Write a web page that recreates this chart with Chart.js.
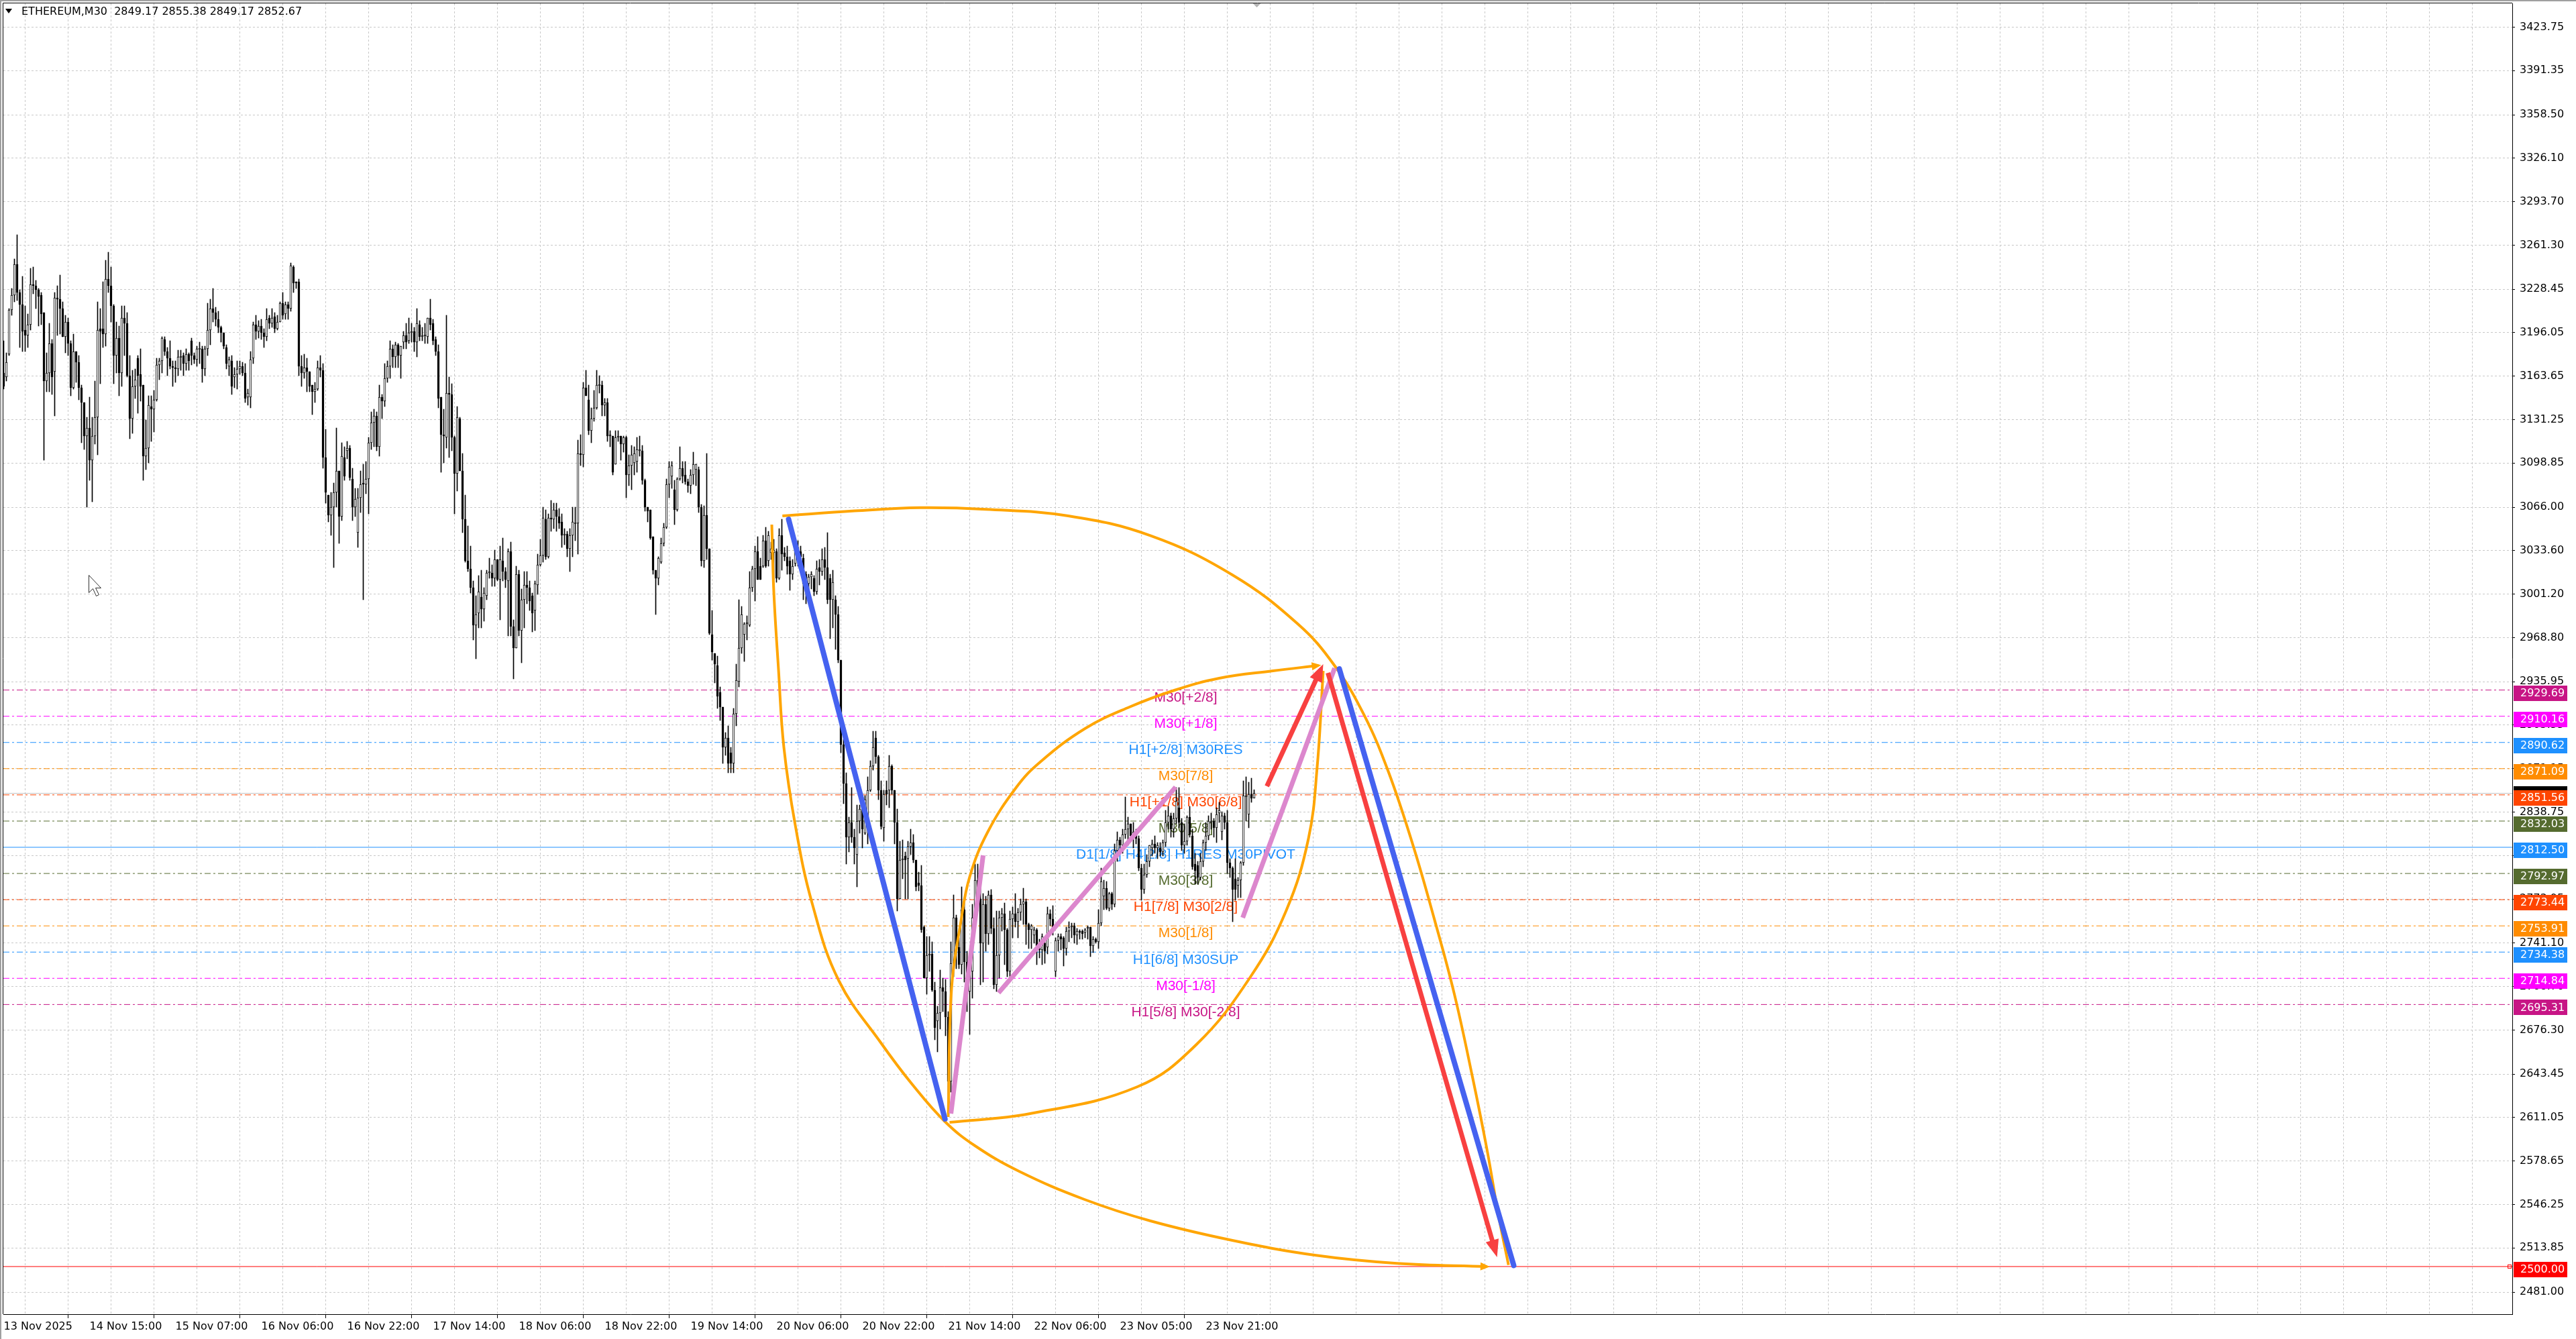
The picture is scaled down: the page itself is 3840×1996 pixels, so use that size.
<!DOCTYPE html>
<html>
<head>
<meta charset="utf-8">
<script src="https://cdn.jsdelivr.net/npm/chart.js@4.4.1/dist/chart.umd.min.js"></script>
<style>
html, body { margin: 0; padding: 0; background: #fff; }
#wrap { position: relative; width: 3840px; height: 1996px; }
</style>
</head>
<body>
<div id="wrap"><canvas id="chart"></canvas></div>
<script>
// ETHEREUM M30 candles, one value per bar (bar 0 = 13 Nov 2025)
const opens = [
3166,3163,3180,3213,3224,3247,3226,3217,3198,3194, 3202,3232,3231,3228,3224,3211,3160,3166,3188,3167,
3222,3221,3214,3193,3204,3188,3155,3182,3174,3155, 3144,3119,3125,3101,3119,3133,3199,3199,3195,3236,
3231,3216,3179,3192,3166,3207,3203,3164,3132,3156, 3177,3165,3157,3104,3110,3141,3139,3146,3172,3175,
3191,3182,3177,3171,3170,3169,3178,3179,3173,3180, 3190,3179,3176,3184,3184,3169,3184,3198,3214,3211,
3206,3200,3196,3185,3171,3175,3163,3165,3169,3171, 3166,3148,3148,3177,3202,3197,3201,3196,3193,3207,
3203,3208,3199,3204,3218,3210,3217,3214,3245,3234, 3234,3171,3166,3170,3167,3157,3152,3154,3170,3168,
3103,3075,3060,3066,3077,3093,3059,3103,3108,3110, 3087,3066,3047,3073,3084,3083,3087,3114,3129,3134,
3111,3148,3145,3162,3171,3184,3178,3187,3179,3189, 3194,3190,3196,3197,3189,3202,3193,3194,3193,3207,
3203,3191,3182,3148,3120,3118,3151,3150,3118,3091, 3132,3093,3057,3026,3020,3006,2978,2987,2999,2990,
3000,3017,3017,3013,3027,3012,3026,3018,3011,3033, 2977,2961,3016,2974,2997,3008,3006,3000,2989,3008,
3023,3030,3057,3029,3058,3057,3064,3059,3055,3045, 3046,3035,3045,3054,3054,3106,3105,3155,3146,3123,
3132,3140,3157,3157,3142,3144,3119,3119,3098,3118, 3119,3113,3118,3090,3097,3099,3100,3108,3108,3086,
3066,3064,3044,3019,3013,3025,3039,3051,3083,3089, 3079,3064,3087,3095,3090,3085,3082,3090,3094,3094,
3066,3026,3060,3035,2971,2957,2948,2928,2917,2887, 2894,2883,2875,2912,2936,2961,2971,2979,2978,3006,
3020,3033,3022,3022,3041,3026,3032,3032,3033,3013, 3045,3032,3029,3026,3016,3024,3035,3033,3028,3016,
3009,3014,3013,3003,3021,3018,3027,3021,3013,2997, 2997,2986,2952,2889,2860,2820,2831,2820,2807,2832,
2841,2823,2829,2855,2873,2894,2880,2855,2827,2855, 2855,2873,2855,2831,2774,2803,2806,2804,2813,2816,
2803,2786,2784,2753,2715,2732,2733,2706,2683,2689, 2708,2705,2686,2638,2726,2760,2738,2725,2766,2727,
2705,2720,2760,2788,2774,2741,2770,2748,2777,2752, 2710,2732,2760,2763,2751,2720,2759,2763,2757,2764,
2770,2772,2755,2751,2747,2751,2739,2736,2741,2738, 2763,2759,2720,2743,2746,2745,2737,2750,2753,2754,
2747,2750,2750,2749,2752,2753,2739,2744,2742,2756, 2776,2782,2767,2778,2770,2810,2818,2814,2822,2826,
2830,2821,2824,2819,2797,2781,2792,2802,2812,2815, 2812,2812,2809,2816,2831,2836,2826,2834,2842,2831,
2814,2817,2835,2821,2800,2799,2790,2802,2816,2821, 2831,2832,2827,2838,2824,2836,2831,2801,2797,2789,
2784,2788,2801,2850,2837,2852,2849.17
];
const highs = [
3190,3181,3214,3229,3251,3269,3228,3238,3216,3210, 3244,3245,3235,3229,3226,3211,3181,3203,3191,3226,
3231,3239,3219,3209,3207,3190,3195,3182,3179,3157, 3144,3133,3148,3133,3160,3219,3214,3234,3250,3256,
3245,3217,3204,3201,3216,3216,3211,3179,3168,3169, 3179,3184,3157,3131,3149,3149,3153,3177,3177,3193,
3193,3185,3190,3175,3175,3183,3183,3181,3184,3181, 3192,3181,3186,3189,3186,3186,3218,3221,3229,3215,
3212,3201,3196,3187,3178,3179,3170,3175,3175,3174, 3173,3154,3182,3204,3209,3205,3206,3199,3214,3209,
3214,3211,3209,3219,3226,3219,3219,3248,3246,3234, 3236,3179,3180,3177,3167,3157,3159,3175,3179,3173,
3124,3075,3077,3084,3125,3093,3114,3111,3115,3112, 3095,3080,3080,3093,3098,3100,3118,3137,3139,3137,
3157,3150,3173,3175,3190,3187,3189,3188,3186,3197, 3203,3207,3203,3200,3214,3205,3200,3203,3207,3221,
3206,3193,3187,3148,3139,3209,3163,3158,3119,3141, 3133,3106,3075,3052,3037,3011,3000,3015,3019,3006,
3019,3028,3023,3034,3027,3037,3043,3021,3035,3040, 2982,3022,3019,3005,3018,3018,3011,3002,3011,3031,
3042,3066,3064,3061,3071,3069,3069,3065,3061,3050, 3048,3050,3066,3066,3116,3120,3159,3168,3157,3140,
3153,3168,3164,3160,3147,3147,3123,3119,3123,3123, 3119,3119,3119,3105,3112,3111,3118,3119,3112,3087,
3066,3064,3044,3019,3029,3043,3054,3087,3100,3100, 3086,3088,3111,3100,3100,3087,3094,3107,3098,3096,
3068,3067,3106,3035,2989,2957,2955,2932,2917,2898, 2903,2887,2916,2949,2997,2992,2980,2985,3018,3022,
3037,3044,3028,3045,3051,3048,3040,3042,3035,3050, 3057,3036,3037,3029,3027,3041,3041,3037,3031,3018,
3016,3018,3015,3026,3027,3035,3036,3047,3016,3019, 3000,2992,2952,2893,2868,2835,2857,2826,2844,2844,
2845,2851,2865,2877,2899,2899,2881,2862,2855,2862, 2881,2874,2855,2841,2817,2818,2809,2817,2826,2822,
2803,2794,2799,2754,2746,2746,2742,2712,2694,2721, 2715,2714,2690,2742,2777,2762,2745,2783,2774,2735,
2728,2770,2800,2800,2782,2778,2776,2780,2781,2760, 2765,2765,2767,2771,2752,2765,2768,2778,2767,2774,
2782,2774,2756,2755,2753,2752,2744,2748,2744,2768, 2766,2769,2745,2748,2748,2746,2753,2757,2756,2756,
2752,2751,2751,2752,2754,2753,2746,2745,2766,2797, 2788,2787,2779,2779,2815,2824,2820,2826,2850,2835,
2830,2831,2826,2821,2800,2800,2807,2814,2818,2821, 2816,2816,2818,2840,2843,2838,2838,2857,2857,2834,
2830,2836,2843,2826,2808,2802,2808,2818,2831,2836, 2838,2834,2842,2846,2839,2838,2840,2804,2798,2804,
2790,2802,2862,2865,2861,2864,2855.38
];
const lows = [
3154,3160,3179,3209,3219,3220,3185,3182,3182,3185, 3198,3225,3214,3201,3202,3101,3152,3152,3150,3134,
3194,3195,3193,3181,3179,3149,3154,3159,3146,3114, 3109,3066,3086,3070,3113,3105,3158,3185,3186,3226,
3204,3158,3166,3149,3156,3179,3163,3117,3121,3147, 3136,3145,3086,3094,3099,3115,3122,3145,3161,3166,
3179,3164,3169,3156,3159,3164,3168,3164,3168,3168, 3172,3173,3171,3173,3159,3164,3179,3187,3204,3201,
3196,3189,3184,3169,3164,3150,3155,3154,3165,3164, 3144,3142,3140,3173,3191,3192,3191,3185,3190,3199,
3200,3196,3198,3204,3206,3206,3206,3212,3226,3229, 3164,3156,3162,3152,3152,3135,3144,3153,3163,3095,
3069,3055,3045,3021,3066,3039,3056,3086,3102,3086, 3056,3059,3036,3062,2997,3076,3061,3109,3111,3108,
3104,3132,3141,3159,3162,3170,3170,3170,3162,3184, 3184,3188,3189,3182,3178,3190,3190,3188,3188,3198,
3187,3179,3140,3092,3099,3110,3103,3108,3061,3078, 3093,3047,3025,3018,3002,2967,2953,2976,2976,2981,
2997,3013,3007,3007,3011,2982,3011,3006,2970,2970, 2938,2961,2970,2950,2976,2994,2989,2973,2974,3001,
3022,3025,3027,3028,3048,3050,3048,3050,3036,3038, 3029,3018,3029,3041,3031,3097,3096,3149,3120,3114,
3130,3139,3151,3134,3134,3115,3111,3090,3098,3115, 3101,3107,3073,3082,3079,3090,3092,3104,3083,3063,
3055,3042,3016,2986,3008,3024,3037,3050,3073,3080, 3053,3063,3086,3084,3083,3077,3076,3083,3082,3062,
3022,3021,3027,2971,2952,2935,2916,2907,2875,2881, 2868,2868,2868,2903,2932,2957,2951,2967,2977,3003,
2996,3012,3012,3021,3021,3022,3027,3012,3010,3012, 3019,3026,3016,3004,3012,3022,3022,3019,2997,2994,
3004,3005,3000,3001,3008,3015,3012,2994,2968,2976, 2960,2950,2883,2845,2800,2809,2816,2800,2783,2823,
2812,2822,2815,2854,2870,2875,2848,2826,2817,2844, 2842,2852,2815,2765,2774,2789,2774,2774,2807,2801,
2780,2780,2749,2715,2703,2720,2705,2669,2660,2677, 2690,2672,2621,2630,2716,2722,2722,2718,2712,2690,
2673,2700,2752,2765,2710,2712,2735,2740,2748,2707, 2705,2715,2750,2725,2716,2715,2745,2753,2745,2758,
2755,2740,2737,2737,2741,2725,2730,2725,2726,2733, 2754,2747,2716,2735,2736,2724,2732,2742,2745,2741,
2740,2744,2744,2745,2744,2731,2734,2741,2737,2754, 2766,2766,2765,2766,2768,2802,2810,2808,2819,2814,
2818,2812,2815,2795,2773,2778,2790,2798,2806,2808, 2804,2806,2806,2813,2826,2820,2820,2830,2827,2810,
2808,2814,2820,2796,2785,2785,2788,2798,2810,2818, 2826,2820,2816,2831,2818,2826,2793,2790,2757,2773,
2775,2775,2799,2832,2827,2846,2849.17
];
const closes = [
3156,3174,3213,3224,3247,3226,3217,3197,3194,3202, 3232,3231,3228,3223,3210,3160,3166,3188,3163,3222,
3221,3214,3193,3204,3188,3155,3182,3174,3155,3144, 3119,3125,3101,3119,3133,3198,3197,3195,3236,3231,
3216,3179,3192,3166,3207,3203,3164,3132,3156,3161, 3164,3156,3104,3110,3142,3139,3146,3172,3175,3192,
3182,3177,3171,3170,3169,3178,3178,3173,3180,3175, 3179,3176,3184,3184,3169,3184,3198,3214,3211,3206,
3200,3196,3186,3173,3176,3156,3165,3169,3171,3166, 3147,3151,3176,3202,3197,3201,3196,3193,3206,3203,
3207,3199,3204,3218,3209,3217,3214,3246,3233,3233, 3171,3166,3170,3167,3156,3152,3154,3170,3168,3103,
3077,3060,3066,3077,3093,3059,3104,3089,3110,3088, 3066,3072,3073,3083,3083,3087,3114,3129,3134,3111,
3148,3145,3162,3171,3184,3178,3187,3179,3186,3194, 3189,3196,3197,3189,3203,3193,3194,3194,3207,3202,
3190,3182,3147,3120,3119,3151,3150,3118,3091,3133, 3093,3057,3026,3020,3006,2978,2986,3003,2990,3002,
3017,3018,3013,3027,3012,3027,3018,3012,3033,2977, 2961,3016,2974,2997,3008,3006,2996,2987,3009,3023,
3030,3058,3029,3058,3057,3064,3059,3054,3045,3046, 3035,3045,3055,3054,3106,3105,3155,3149,3123,3132,
3140,3157,3157,3142,3144,3119,3120,3092,3118,3119, 3113,3118,3090,3097,3105,3106,3109,3109,3086,3066,
3063,3043,3019,3013,3028,3039,3051,3083,3096,3097, 3064,3087,3095,3089,3085,3082,3090,3098,3098,3066,
3026,3060,3035,2972,2958,2949,2925,2917,2887,2894, 2875,2875,2912,2937,2961,2986,2979,2980,3006,3020,
3033,3012,3012,3041,3022,3045,3035,3034,3013,3045, 3031,3029,3022,3016,3022,3035,3036,3029,3009,3009,
3014,3016,3003,3020,3018,3027,3021,2997,2997,3010, 2986,2952,2889,2860,2820,2831,2820,2812,2832,2841,
2826,2848,2855,2873,2887,2880,2855,2828,2852,2852, 2873,2855,2831,2774,2803,2804,2803,2813,2816,2803,
2783,2784,2751,2715,2732,2733,2706,2678,2689,2708, 2705,2686,2638,2726,2760,2738,2725,2766,2727,2705,
2720,2760,2788,2774,2741,2770,2748,2777,2752,2710, 2732,2760,2763,2751,2720,2759,2763,2757,2764,2770,
2772,2755,2751,2754,2751,2739,2736,2746,2735,2763, 2759,2750,2743,2746,2744,2737,2750,2753,2754,2747,
2750,2749,2748,2751,2753,2739,2744,2742,2756,2787, 2782,2767,2778,2770,2810,2818,2814,2822,2826,2830,
2821,2824,2819,2797,2781,2792,2802,2814,2815,2812, 2814,2809,2816,2831,2836,2826,2834,2847,2831,2814,
2817,2835,2822,2798,2795,2790,2802,2816,2821,2832, 2832,2827,2837,2840,2836,2831,2801,2797,2781,2781,
2788,2801,2851,2851,2852,2849,2852.67
];

// time axis: a label every 32 bars
const timeLabels = ['13 Nov 2025','14 Nov 15:00','15 Nov 07:00','16 Nov 06:00','16 Nov 22:00',
  '17 Nov 14:00','18 Nov 06:00','18 Nov 22:00','19 Nov 14:00','20 Nov 06:00','20 Nov 22:00',
  '21 Nov 14:00','22 Nov 06:00','23 Nov 05:00','23 Nov 21:00'];
const priceTicks = [3423.75,3391.35,3358.50,3326.10,3293.70,3261.30,3228.45,3196.05,3163.65,3131.25,
  3098.85,3066.00,3033.60,3001.20,2968.80,2935.95,2903.55,2871.15,2838.75,2806.35,2773.95,2741.10,
  2708.70,2676.30,2643.45,2611.05,2578.65,2546.25,2513.85,2481.00];

// Murrey levels
const levelPrices = [2929.69,2910.16,2890.62,2871.09,2851.56,2832.03,2812.50,2792.97,2773.44,2753.91,2734.38,2714.84,2695.31];
const levelNames = ['M30[+2/8]','M30[+1/8]','H1[+2/8] M30RES','M30[7/8]','H1[+1/8] M30[6/8]','M30[5/8]',
  'D1[1/8] H4[2/8] H1RES M30PIVOT','M30[3/8]','H1[7/8] M30[2/8]','M30[1/8]','H1[6/8] M30SUP','M30[-1/8]','H1[5/8] M30[-2/8]'];
const levelColors = ['#C71585','#FF00FF','#1E90FF','#FF8C00','#FF4500','#556B2F',
  '#1E90FF','#556B2F','#FF4500','#FF8C00','#1E90FF','#FF00FF','#C71585'];
const lastPrice = 2852.67;
const targetPrice = 2500.00;

// projection drawings, [bar, price]
const arcOuterTop = [[290.2,3059.5],[317.1,3063.2],[341.6,3065.6],[366.1,3064.4],[396.7,3059.5],[427.3,3044.8],
  [458,3015.4],[482.4,2978.7],[495.9,2948.1],[506.9,2911.4],[516.1,2868.5],[525.3,2813.4],[533.25,2758.3],
  [540.6,2703.2],[547.3,2642],[552.8,2587],[557.1,2537.8],[560.8,2501.2]];
const arcOuterLeft = [[286.25,3053],[287,3003],[288.75,2945],[290.75,2887],[295,2829],[301.25,2771],
  [311.25,2713],[327,2666.5],[338.5,2636],[350.8,2608],[362,2590],[378.4,2571],[402.8,2550],[427.4,2534],
  [457.9,2519.5],[488.6,2508.5],[519.2,2502.4],[552.85,2500]];
const arcInnerLow = [[352.5,2607.5],[382.5,2614],[422.5,2634],[444.5,2665.5],[464.5,2715.5],[478,2765.5],
  [486.25,2819],[489.5,2872.5],[491.75,2944]];
const arcInnerHigh = [[352,2611.5],[353.25,2707.5],[356.75,2757.5],[360,2790.5],[366.75,2824],[377.5,2857.5],
  [386.25,2876],[403,2901],[419.5,2917],[436.25,2929.5],[453,2938.5],[473,2944],[490,2948]];
const blueLegs = [[292.5,3057,350.8,2610],[497.75,2945.5,562.75,2500.8]];
const pinkLegs = [[353,2614,365,2806.5],[370.75,2704,436.75,2857.4],[461.75,2760,496,2946]];
const redArrows = [[470.75,2858,490.5,2943.5],[493.5,2942.5,555.7,2512.8]];

const xMin = -0.125, xMax = 934.875;
const yMin = 2464.5, yMax = 3441.5;
const mtFont = 'DejaVu Sans';

const bars = opens.map((o, i) => i);
const wickData = bars.map(i => ({ x: i, y: [lows[i], highs[i]] }));
const bodyData = bars.map(i => {
  let a = Math.min(opens[i], closes[i]), b = Math.max(opens[i], closes[i]);
  if (b - a < 0.6) { const m = (a + b) / 2; a = m - 0.3; b = m + 0.3; }
  return { x: i, y: [a, b] };
});
const bodyFill = bars.map(i => closes[i] >= opens[i] ? '#ffffff' : '#000000');

const toPts = arr => arr.map(p => ({ x: p[0], y: p[1] }));
const segPts = s => [{ x: s[0], y: s[1] }, { x: s[2], y: s[3] }];

const datasets = [];
levelPrices.forEach((p, i) => {
  datasets.push({
    type: 'line', data: [{ x: xMin, y: p }, { x: xMax, y: p }],
    borderColor: levelColors[i], borderWidth: 1, borderDash: i === 6 ? [] : [9, 4, 3, 4],
    pointRadius: 0, order: 20
  });
});
datasets.push({ type: 'line', data: [{ x: xMin, y: lastPrice }, { x: xMax, y: lastPrice }],
  borderColor: '#C0C0C0', borderWidth: 1, pointRadius: 0, order: 19 });
datasets.push({ type: 'line', data: [{ x: xMin, y: targetPrice }, { x: xMax, y: targetPrice }],
  borderColor: '#FF0000', borderWidth: 1, pointRadius: 0, order: 19 });
datasets.push({ type: 'bar', data: wickData, backgroundColor: '#000', barThickness: 1,
  grouped: false, order: 12 });
datasets.push({ type: 'bar', data: bodyData, backgroundColor: bodyFill, borderColor: '#000',
  borderWidth: 1, borderSkipped: false, barThickness: 3, grouped: false, order: 11 });
[arcOuterTop, arcOuterLeft, arcInnerLow, arcInnerHigh].forEach(arc => {
  datasets.push({ type: 'line', data: toPts(arc), borderColor: '#FFA500', borderWidth: 4,
    tension: 0.4, pointRadius: 0, order: 5 });
});
blueLegs.forEach(s => datasets.push({ type: 'line', data: segPts(s), borderColor: '#4562F0',
  borderWidth: 8, borderCapStyle: 'round', pointRadius: 0, order: 3 }));
pinkLegs.forEach(s => datasets.push({ type: 'line', data: segPts(s), borderColor: '#DC87CD',
  borderWidth: 7, borderCapStyle: 'butt', pointRadius: 0, order: 2 }));
redArrows.forEach(s => datasets.push({ type: 'line', data: segPts(s), borderColor: '#F84040',
  borderWidth: 7, borderCapStyle: 'butt', pointRadius: 0, order: 1 }));

function arrowHead(ctx, x0, y0, x1, y1, ahead, len, half, color) {
  const ang = Math.atan2(y1 - y0, x1 - x0);
  ctx.save();
  ctx.translate(x1, y1);
  ctx.rotate(ang);
  ctx.beginPath();
  ctx.moveTo(ahead, 0);
  ctx.lineTo(ahead - len, -half);
  ctx.lineTo(ahead - len, half);
  ctx.closePath();
  ctx.fillStyle = color;
  ctx.fill();
  ctx.restore();
}

const mtDecor = {
  id: 'mtDecor',
  beforeDraw(chart) {
    const { ctx, width, height } = chart;
    ctx.save();
    ctx.fillStyle = '#ffffff';
    ctx.fillRect(0, 0, width, height);
    ctx.restore();
  },
  beforeDatasetsDraw(chart) {
    const { ctx, scales: { x, y } } = chart;
    const cx = x.getPixelForValue(440.5);
    ctx.save();
    ctx.font = '21px "Liberation Sans", Arial, sans-serif';
    ctx.textAlign = 'center';
    ctx.textBaseline = 'top';
    levelPrices.forEach((p, i) => {
      ctx.fillStyle = levelColors[i];
      ctx.fillText(levelNames[i], cx, y.getPixelForValue(p) + 1);
    });
    ctx.restore();
  },
  afterDatasetsDraw(chart) {
    const { ctx, scales: { x, y } } = chart;
    redArrows.forEach(s => {
      arrowHead(ctx, x.getPixelForValue(s[0]), y.getPixelForValue(s[1]),
        x.getPixelForValue(s[2]), y.getPixelForValue(s[3]), 12, 26, 10, '#F84040');
    });
    [arcInnerHigh, arcOuterLeft].forEach(arc => {
      const a = arc[arc.length - 2], b = arc[arc.length - 1];
      arrowHead(ctx, x.getPixelForValue(a[0]), y.getPixelForValue(a[1]),
        x.getPixelForValue(b[0]), y.getPixelForValue(b[1]), 4, 14, 6, '#FFA500');
    });
  },
  afterDraw(chart) {
    const { ctx, chartArea: a, scales: { x, y } } = chart;
    ctx.save();
    // window frame
    ctx.fillStyle = '#A0A0A0';
    ctx.fillRect(0, 0, chart.width, 2);
    ctx.fillRect(0, 0, 2, chart.height);
    ctx.strokeStyle = '#000';
    ctx.lineWidth = 1;
    ctx.beginPath();
    ctx.moveTo(a.left - 0.5, a.bottom);
    ctx.lineTo(a.left - 0.5, a.top - 0.5);
    ctx.lineTo(a.right, a.top - 0.5);
    ctx.stroke();
    // shift marker
    const sx = x.getPixelForValue(closes.length);
    ctx.fillStyle = '#B4B4B4';
    ctx.beginPath();
    ctx.moveTo(sx - 6, a.top);
    ctx.lineTo(sx + 6, a.top);
    ctx.lineTo(sx, a.top + 6);
    ctx.closePath();
    ctx.fill();
    // mouse pointer left on the screenshot
    const cur = [[0,0],[0,26],[6,20],[11,31],[15,29],[10,19],[18,19]];
    ctx.beginPath();
    cur.forEach((p, k) => { const px = 132.5 + p[0], py = 857.5 + p[1]; k ? ctx.lineTo(px, py) : ctx.moveTo(px, py); });
    ctx.closePath();
    ctx.fillStyle = '#fff';
    ctx.fill();
    ctx.strokeStyle = '#333';
    ctx.stroke();
    // title
    ctx.fillStyle = '#000';
    ctx.beginPath();
    ctx.moveTo(8, 13); ctx.lineTo(18, 13); ctx.lineTo(13, 20); ctx.closePath(); ctx.fill();
    ctx.font = '16px "' + mtFont + '"';
    ctx.textBaseline = 'middle';
    ctx.textAlign = 'left';
    ctx.fillText('ETHEREUM,M30  2849.17 2855.38 2849.17 2852.67', 32, 18);
    // price tags on the axis
    const tag = (p, color, top) => {
      const py = y.getPixelForValue(p);
      ctx.fillStyle = color;
      ctx.fillRect(a.right + 2, Math.round(py - top), 80, 23);
      ctx.fillStyle = '#fff';
      ctx.fillText(p.toFixed(2), a.right + 12, py + 5);
    };
    tag(lastPrice, '#000000', 11);
    levelPrices.forEach((p, i) => tag(p, levelColors[i], 7));
    tag(targetPrice, '#FF0000', 7);
    // anchor of the target line
    const ty = Math.round(y.getPixelForValue(targetPrice));
    ctx.strokeStyle = '#FF0000';
    ctx.strokeRect(a.right - 6.5, ty - 2.5, 5, 5);
    ctx.restore();
  }
};

new Chart(document.getElementById('chart'), {
  type: 'bar',
  data: { datasets },
  options: {
    responsive: true,
    maintainAspectRatio: false,
    devicePixelRatio: 1,
    animation: false,
    events: [],
    layout: { padding: { left: 5, top: 5, right: 0, bottom: 0 } },
    plugins: { legend: { display: false }, tooltip: { enabled: false } },
    scales: {
      x: {
        type: 'linear', min: xMin, max: xMax, offset: false,
        afterBuildTicks: s => {
          const t = [];
          for (let v = 0; v <= xMax; v += 16) t.push({ value: v });
          s.ticks = t;
        },
        afterFit: s => { s.height = 37; s.paddingLeft = 0; s.paddingRight = 0; },
        ticks: {
          autoSkip: false, maxRotation: 0, minRotation: 0, align: 'start', padding: 3,
          color: '#000', font: { family: mtFont, size: 16 },
          callback: v => (v % 32 === 0 && v / 32 < timeLabels.length) ? timeLabels[v / 32] : ''
        },
        grid: {
          color: '#C8C8C8', lineWidth: 1, tickLength: 6,
          tickColor: c => (c.tick && c.tick.value % 32 === 0 && c.tick.value / 32 < timeLabels.length) ? '#000' : 'rgba(0,0,0,0)'
        },
        border: { display: true, color: '#000', width: 1, dash: [3, 3] }
      },
      y: {
        type: 'linear', position: 'right', min: yMin, max: yMax,
        afterBuildTicks: s => { s.ticks = priceTicks.map(v => ({ value: v })); },
        afterFit: s => { s.width = 95; s.paddingTop = 0; s.paddingBottom = 0; },
        ticks: {
          autoSkip: false, padding: 7, color: '#000', font: { family: mtFont, size: 16 },
          callback: v => Number(v).toFixed(2)
        },
        grid: { color: '#C8C8C8', lineWidth: 1, tickLength: 4, tickColor: '#000' },
        border: { display: true, color: '#000', width: 1, dash: [3, 3] }
      }
    }
  },
  plugins: [mtDecor]
});
</script>
</body>
</html>
